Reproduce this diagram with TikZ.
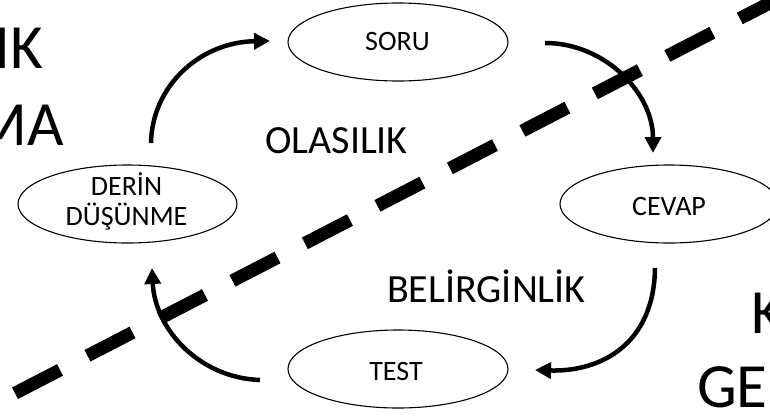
\documentclass[tikz,border=0pt]{standalone}
\usepackage{fontspec}
\setmainfont{Carlito}
\usetikzlibrary{arrows.meta,shapes.geometric}
\begin{document}
\begin{tikzpicture}[x=1pt,y=-1pt,
  oval/.style={draw,ellipse,line width=1.1pt,inner sep=0pt,minimum height=78pt},
  lbl/.style={inner sep=0pt,anchor=base,font=\fontsize{28}{30}\selectfont},
  mid/.style={inner sep=0pt,anchor=base west,font=\fontsize{40}{48}\selectfont},
  side/.style={inner sep=0pt,font=\fontsize{63}{70}\selectfont},
  cyc/.style={line width=4.5pt,-{Triangle[length=16pt,width=16pt]}},
  sepline/.style={line width=13pt,dash pattern=on 50.7pt off 30.9pt}]
\useasboundingbox (0,0) rectangle (770,415);
\clip (0,0) rectangle (770,415);
% ellipses
\node[oval,minimum width=220pt] (soru) at (398,42) {};
\node[oval,minimum width=219pt] (derin) at (127.5,204) {};
\node[oval,minimum width=218pt] (cevap) at (669,204) {};
\node[oval,minimum width=220pt] (test) at (398,369) {};
% ellipse texts
\node[lbl] (tsoru) at (397.5,50) {SORU};
\node[lbl] (tderin1) at (126.5,195) {DERİN};
\node[lbl] (tderin2) at (126.5,225) {DÜŞÜNME};
\node[lbl] (tcevap) at (669,215) {CEVAP};
\node[lbl] (ttest) at (396,380) {TEST};
% middle texts
\node[mid] (olas) at (265,153) {OLASILIK};
\node[mid] (belir) at (387,302) {BELİRGİNLİK};
% side texts (cut by the frame)
\node[side,anchor=base east] (l1) at (43,68) {IK};
\node[side,anchor=base east] (l2) at (64,145) {MA};
\node[side,anchor=base west] (r1) at (751,333) {K};
\node[side,anchor=base west] (r2) at (697,407) {GE};
% arrow end points
\coordinate (a1s) at (151,143);
\coordinate (a1e) at (270,41);
\coordinate (a2s) at (545,43);
\coordinate (a2e) at (653,153);
\coordinate (a3s) at (655,268);
\coordinate (a3e) at (535,370);
\coordinate (a4s) at (260,380);
\coordinate (a4e) at (152,268);
\draw[cyc] (a1s) .. controls (152,86) and (200,42) .. (a1e);
\draw[cyc] (a2s) .. controls (605,43) and (653,93) .. (a2e);
\draw[cyc] (a3s) .. controls (654,345) and (600,372) .. (a3e);
\draw[cyc] (a4s) .. controls (200,378) and (155,330) .. (a4e);
% dashed divider
\coordinate (ds) at (-57.5,430.7);
\coordinate (de) at (850,-38.5);
\draw[sepline] (ds) -- (de);
\end{tikzpicture}
\end{document}
